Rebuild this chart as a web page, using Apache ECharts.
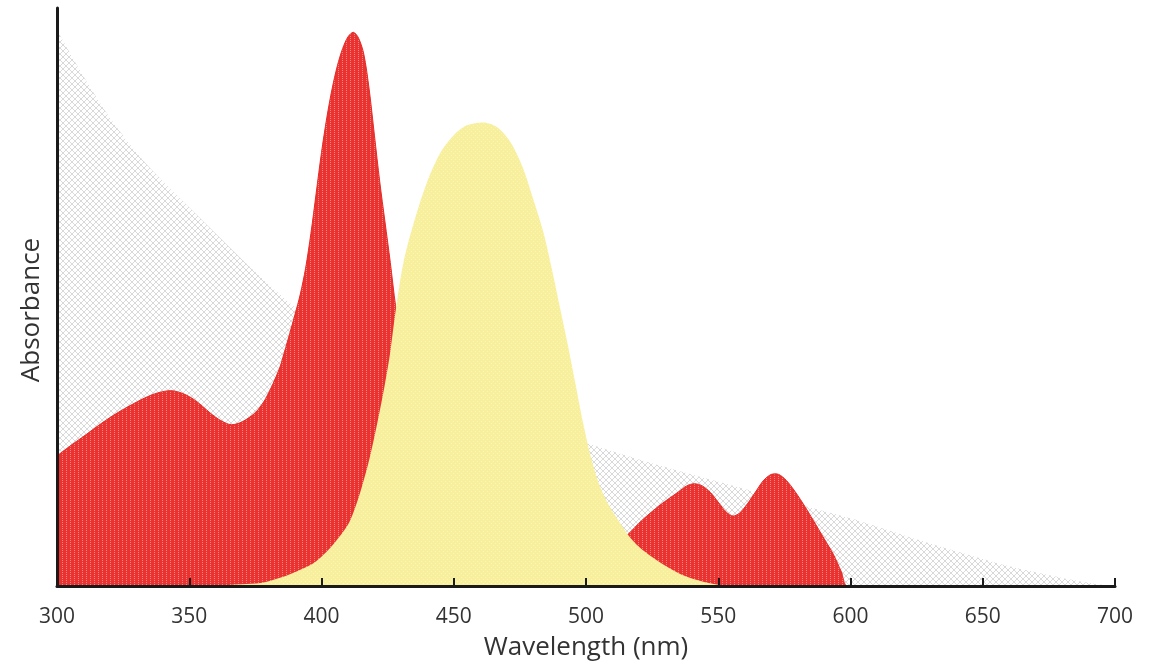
<!DOCTYPE html>
<html>
<head>
<meta charset="utf-8">
<script src="https://cdn.jsdelivr.net/npm/echarts@6/dist/echarts.min.js"></script>
<style>
html,body{margin:0;padding:0;background:#fff;}
#chart{width:1163px;height:666px;}
</style>
</head>
<body>
<div id="chart"></div>
<script>
// ---- data (wavelength in nm, absorbance in arbitrary units) ----
const grayNm  = [300,310,320,330,340,350,360,370,380,390,400,420,440,460,480,500,520,540,560,580,600,620,640,660,680,695,700];
const grayAbs = [0.962,0.882,0.81,0.75,0.70,0.655,0.61,0.565,0.522,0.482,0.447,0.386,0.34,0.30,0.272,0.247,0.219,0.193,0.168,0.142,0.117,0.088,0.06,0.034,0.014,0.002,0];

const redNm  = [300,304,311,317,323,328,333,338,343,347,351,355,358,362,366,370,375,379,384,386,388,390,392,394,396,398,400,402,404,406,408,410,412,414,416,418,420,422,424,426,428,430,434,440,446,455,470,490,505,512,516,521,528,535,538,541,544,547,550,553,555.6,558,561,564,567,570,572,575,578,582,586,590,593.5,596.5,599,700];
const redAbs = [0.225,0.239,0.262,0.282,0.300,0.313,0.325,0.334,0.338,0.334,0.325,0.311,0.299,0.286,0.279,0.284,0.300,0.325,0.375,0.405,0.437,0.47,0.505,0.55,0.61,0.68,0.75,0.81,0.86,0.90,0.93,0.95,0.958,0.948,0.92,0.86,0.78,0.70,0.63,0.56,0.485,0.43,0.33,0.2,0.12,0.07,0.05,0.05,0.06,0.075,0.09,0.113,0.14,0.163,0.173,0.177,0.173,0.162,0.145,0.128,0.121,0.126,0.142,0.162,0.182,0.193,0.194,0.186,0.17,0.143,0.113,0.082,0.055,0.025,0,0];

const yellowNm  = [350,360,370,377,385,392,398,405,411,417,421,424,426,428,431,435,440,445,450,455,461,466,471,476,480,484,487,490,493,496,499,502,505,508,512,516,520,525,530,536,543,550,556];
const yellowAbs = [0,0.001,0.003,0.005,0.015,0.028,0.043,0.075,0.115,0.2,0.28,0.35,0.405,0.475,0.56,0.63,0.70,0.75,0.78,0.797,0.802,0.795,0.771,0.725,0.67,0.61,0.55,0.485,0.42,0.35,0.28,0.22,0.175,0.145,0.115,0.088,0.068,0.05,0.035,0.02,0.009,0.002,0];

const xTickMarks = [300,350,400,450,500,550,600,650,700];

// ---- texture patterns ----
function makePattern(w, h, bg, fg, pts) {
  const c = document.createElement('canvas');
  c.width = w; c.height = h;
  const g = c.getContext('2d');
  if (bg) { g.fillStyle = bg; g.fillRect(0, 0, w, h); }
  g.fillStyle = fg;
  pts.forEach(p => g.fillRect(p[0], p[1], 1, 1));
  return c;
}
const xPts = [];
for (let i = 0; i < 6; i++) { xPts.push([i, i]); xPts.push([5 - i, i]); }
const grayPat = makePattern(6, 6, '#ffffff', '#d9d9d9', xPts);
const redPat = makePattern(4, 4, '#ea3330', '#f48880', [[2,0],[2,2]]);
const yellowPat = makePattern(4, 4, '#f8ef9c', '#fbf4bb', [[1,1],[3,3]]);

function pairs(xs, ys) { return xs.map((x, i) => [x, ys[i]]); }

const chart = echarts.init(document.getElementById('chart'));
const FONT = 'Open Sans';
chart.setOption({
  animation: false,
  backgroundColor: '#ffffff',
  grid: { left: 57, right: 48, top: 8, bottom: 80 },
  xAxis: {
    type: 'value', min: 300, max: 700, interval: 50, z: 10,
    name: 'Wavelength (nm)', nameLocation: 'middle', nameGap: 49,
    nameTextStyle: { fontSize: 26, color: '#333', fontFamily: FONT },
    axisLine: { show: true, lineStyle: { color: '#1a1a1a', width: 3 } },
    axisTick: { show: true, inside: true, length: 8, customValues: xTickMarks, lineStyle: { color: '#1a1a1a', width: 2 } },
    axisLabel: { fontSize: 21, color: '#333', margin: 21, fontFamily: FONT, showMinLabel: true, showMaxLabel: true },
    splitLine: { show: false }
  },
  yAxis: {
    type: 'value', min: 0, max: 1, z: 10,
    name: 'Absorbance', nameLocation: 'middle', nameRotate: 90, nameGap: 12,
    nameTextStyle: { fontSize: 26, color: '#333', fontFamily: FONT, padding: [0, 26, 0, 0] },
    axisLine: { show: true, lineStyle: { color: '#1a1a1a', width: 3 } },
    axisTick: { show: false }, axisLabel: { show: false }, splitLine: { show: false }
  },
  series: [
    { type: 'line', data: pairs(grayNm, grayAbs), smooth: 0.3, showSymbol: false, z: 1,
      lineStyle: { width: 0 }, areaStyle: { color: { image: grayPat, repeat: 'repeat' }, opacity: 1 } },
    { type: 'line', data: pairs(redNm, redAbs), smooth: 0.3, showSymbol: false, z: 2,
      lineStyle: { width: 1, color: '#e42a26' }, areaStyle: { color: { image: redPat, repeat: 'repeat' }, opacity: 1 } },
    { type: 'line', data: pairs(yellowNm, yellowAbs), smooth: 0.3, showSymbol: false, z: 3,
      lineStyle: { width: 0 }, areaStyle: { color: { image: yellowPat, repeat: 'repeat' }, opacity: 1 } }
  ]
});
</script>
</body>
</html>
